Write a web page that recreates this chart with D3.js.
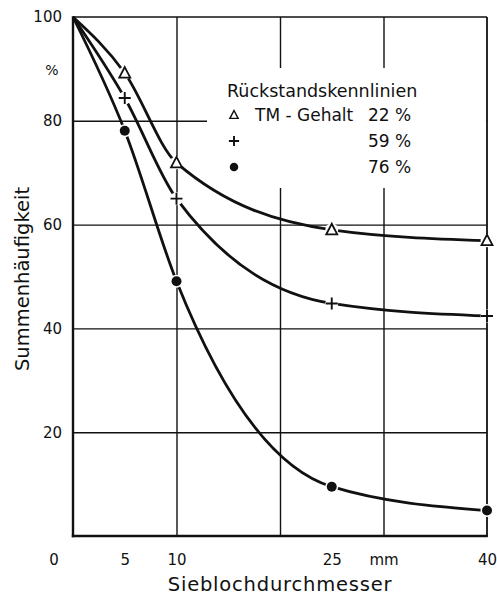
<!DOCTYPE html>
<html>
<head>
<meta charset="utf-8">
<script src="https://cdn.jsdelivr.net/npm/d3@7"></script>
<style>
  html, body { margin: 0; padding: 0; background: #fff; }
  svg { display: block; font-family: "DejaVu Sans", sans-serif; }
  .tick text { fill: #111; }
</style>
</head>
<body>
<svg id="chart" width="497" height="598"></svg>
<script>
// Sieve hole diameter (mm) at which each residue curve was measured
const diameters = [0, 5, 10, 25, 40];

// Cumulative frequency (%) for each dry-matter content
const series22 = [100, 89.2, 71.9, 59.0, 56.9];
const series59 = [100, 84.4, 65.0, 44.8, 42.4];
const series76 = [100, 78.1, 49.1, 9.5, 4.9];

const seriesNames = ["22 %", "59 %", "76 %"];
const seriesSymbols = ["triangle", "plus", "dot"];

// Axis tick labels
const xTickValues = [5, 10, 25, 30, 40];
const xTickLabels = ["5", "10", "25", "mm", "40"];
const xGridValues = [10, 20, 30];
const yTickValues = [20, 40, 60, 80, 100];
const yGridValues = [20, 40, 60, 80];

const svg = d3.select("#chart");
const plotLeft = 73, plotRight = 487, plotTop = 17, plotBottom = 536;

const x = d3.scaleLinear().domain([0, 40]).range([plotLeft, plotRight]);
const y = d3.scaleLinear().domain([0, 100]).range([plotBottom, plotTop]);

const ink = "#111";

// Grid lines
svg.append("g")
  .attr("transform", `translate(0,${plotBottom})`)
  .call(d3.axisBottom(x).tickValues(xGridValues).tickSize(-(plotBottom - plotTop)).tickFormat(""))
  .call(g => g.select(".domain").remove())
  .call(g => g.selectAll("line").attr("stroke", ink).attr("stroke-width", 1.4));

svg.append("g")
  .attr("transform", `translate(${plotLeft},0)`)
  .call(d3.axisLeft(y).tickValues(yGridValues).tickSize(-(plotRight - plotLeft)).tickFormat(""))
  .call(g => g.select(".domain").remove())
  .call(g => g.selectAll("line").attr("stroke", ink).attr("stroke-width", 1.4));

// Plot frame
svg.append("line").attr("x1", plotLeft).attr("x2", plotRight).attr("y1", plotTop).attr("y2", plotTop)
  .attr("stroke", ink).attr("stroke-width", 1.6);
svg.append("line").attr("x1", plotRight).attr("x2", plotRight).attr("y1", plotTop).attr("y2", plotBottom)
  .attr("stroke", ink).attr("stroke-width", 1.8);
svg.append("line").attr("x1", plotLeft).attr("x2", plotLeft).attr("y1", plotTop - 0.8).attr("y2", plotBottom + 1.2)
  .attr("stroke", ink).attr("stroke-width", 2.4);
svg.append("line").attr("x1", plotLeft - 1.2).attr("x2", plotRight + 0.9).attr("y1", plotBottom).attr("y2", plotBottom)
  .attr("stroke", ink).attr("stroke-width", 2.4);

// Legend area blanks out the grid behind it
svg.append("rect")
  .attr("x", 207).attr("y", 68)
  .attr("width", plotRight - 1 - 207).attr("height", 120)
  .attr("fill", "#fff");

// Axis tick labels
svg.append("g")
  .attr("transform", `translate(0,${plotBottom})`)
  .call(d3.axisBottom(x).tickValues(xTickValues).tickSize(0).tickPadding(18)
    .tickFormat((d, i) => xTickLabels[i]))
  .call(g => g.select(".domain").remove())
  .call(g => g.selectAll("text").attr("font-size", 15).attr("font-family", "DejaVu Sans"));

svg.append("g")
  .attr("transform", `translate(${plotLeft},0)`)
  .call(d3.axisLeft(y).tickValues(yTickValues).tickSize(0).tickPadding(11).tickFormat(d3.format("d")))
  .call(g => g.select(".domain").remove())
  .call(g => g.selectAll("text").attr("font-size", 15).attr("font-family", "DejaVu Sans"));

// Origin label and unit marker on the y axis
svg.append("text").attr("x", plotLeft - 19).attr("y", plotBottom + 29)
  .attr("text-anchor", "middle").attr("font-size", 15).attr("fill", ink).text("0");
svg.append("text").attr("x", plotLeft - 21).attr("y", y(100) + 58)
  .attr("text-anchor", "middle").attr("font-size", 14).attr("fill", ink).text("%");

// Axis titles
svg.append("text")
  .attr("x", (plotLeft + plotRight) / 2).attr("y", 591)
  .attr("text-anchor", "middle").attr("font-size", 19.5).attr("letter-spacing", 0.8).attr("fill", ink)
  .text("Sieblochdurchmesser");

svg.append("text")
  .attr("transform", `translate(29,279) rotate(-90)`)
  .attr("text-anchor", "middle").attr("font-size", 19.5).attr("fill", ink)
  .text("Summenhäufigkeit");

// Curves through the measured points
const line = d3.line()
  .x((d, i) => x(diameters[i]))
  .y(d => y(d))
  .curve(d3.curveMonotoneX);

const allSeries = [series22, series59, series76];
allSeries.forEach(vals => {
  svg.append("path")
    .attr("d", line(vals))
    .attr("fill", "none")
    .attr("stroke", ink)
    .attr("stroke-width", 2.8)
    .attr("stroke-linejoin", "round");
});

// Marker drawing
function drawMarker(g, kind, cx, cy, scale) {
  const s = scale || 1;
  if (kind === "triangle") {
    const h = 10 * s, w = 11 * s;
    g.append("path")
      .attr("d", `M${cx},${cy - h * 0.6} L${cx + w / 2},${cy + h * 0.45} L${cx - w / 2},${cy + h * 0.45} Z`)
      .attr("fill", "#fff").attr("stroke", ink).attr("stroke-width", 1.8 * Math.max(s, 0.8));
  } else if (kind === "plus") {
    const r = 6 * s;
    g.append("path")
      .attr("d", `M${cx - r},${cy} H${cx + r} M${cx},${cy - r} V${cy + r}`)
      .attr("stroke", ink).attr("stroke-width", 1.9);
  } else {
    g.append("circle").attr("cx", cx).attr("cy", cy).attr("r", 5 * s)
      .attr("fill", ink);
  }
}

const markers = svg.append("g");
allSeries.forEach((vals, si) => {
  vals.forEach((v, i) => {
    if (i === 0) return;
    const cx = x(diameters[i]), cy = y(v);
    // small white gap where the curve meets the marker
    markers.append("circle").attr("cx", cx).attr("cy", cy).attr("r", 6.5).attr("fill", "#fff");
    drawMarker(markers, seriesSymbols[si], cx, cy, 1);
  });
});

// Legend
const lg = svg.append("g");
lg.append("text").attr("x", 227).attr("y", 97)
  .attr("font-size", 17.5).attr("fill", ink).text("Rückstandskennlinien");
lg.append("text").attr("x", 255).attr("y", 121)
  .attr("font-size", 17).attr("fill", ink).text("TM - Gehalt");
const rowY = [115, 141, 167];
seriesNames.forEach((name, i) => {
  drawMarker(lg, seriesSymbols[i], 234, rowY[i], i === 0 ? 0.75 : 0.85);
  lg.append("text").attr("x", 368).attr("y", rowY[i] + 6)
    .attr("font-size", 17).attr("fill", ink).text(name);
});
</script>
</body>
</html>
